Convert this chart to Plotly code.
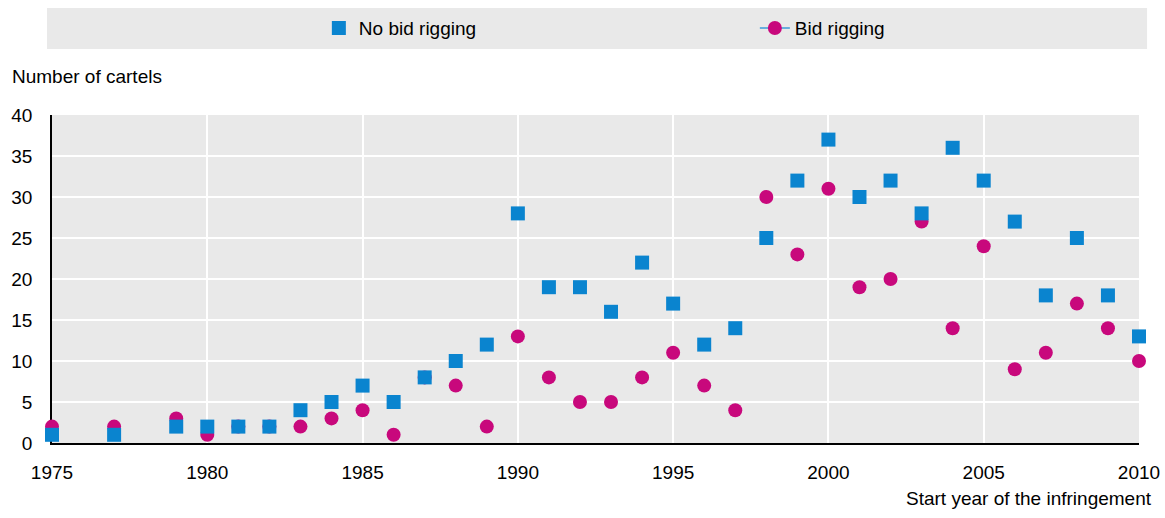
import plotly.graph_objects as go

years = [1975, 1977, 1979, 1980, 1981, 1982, 1983, 1984, 1985, 1986, 1987, 1988,
         1989, 1990, 1991, 1992, 1993, 1994, 1995, 1996, 1997, 1998, 1999, 2000,
         2001, 2002, 2003, 2004, 2005, 2006, 2007, 2008, 2009, 2010]
no_bid_rigging = [1, 1, 2, 2, 2, 2, 4, 5, 7, 5, 8, 10,
                  12, 28, 19, 19, 16, 22, 17, 12, 14, 25, 32, 37,
                  30, 32, 28, 36, 32, 27, 18, 25, 18, 13]
bid_rigging = [2, 2, 3, 1, 2, 2, 2, 3, 4, 1, 8, 7,
               2, 13, 8, 5, 5, 8, 11, 7, 4, 30, 23, 31,
               19, 20, 27, 14, 24, 9, 11, 17, 14, 10]
x_ticks = [1975, 1980, 1985, 1990, 1995, 2000, 2005, 2010]
y_ticks = [0, 5, 10, 15, 20, 25, 30, 35, 40]

BLUE = "#0a84cf"
MAGENTA = "#c8087c"
LINE_BLUE = "#3b9ad8"
BG = "#e9e9e9"
FONT = "Liberation Sans, Arial, sans-serif"

fig = go.Figure()
fig.add_trace(go.Scatter(
    x=years, y=bid_rigging, mode="markers", name="Bid rigging",
    marker=dict(symbol="circle", size=14, color=MAGENTA, line=dict(width=0)),
    cliponaxis=False, showlegend=False))
fig.add_trace(go.Scatter(
    x=years, y=no_bid_rigging, mode="markers", name="No bid rigging",
    marker=dict(symbol="square", size=14, color=BLUE, line=dict(width=0)),
    cliponaxis=False))
fig.add_trace(go.Scatter(
    x=[None], y=[None], mode="lines+markers", name="Bid rigging",
    line=dict(color=LINE_BLUE, width=1.5),
    marker=dict(symbol="circle", size=14, color=MAGENTA, line=dict(width=0))))

fig.update_layout(
    width=1165, height=518,
    margin=dict(l=52, r=26, t=115, b=75, autoexpand=False),
    paper_bgcolor="white", plot_bgcolor=BG,
    font=dict(family=FONT, size=19, color="#000000"),
    legend=dict(orientation="h", x=0.2455, xanchor="left", y=1.265, yanchor="middle",
                bgcolor="rgba(0,0,0,0)", entrywidth=391, entrywidthmode="pixels",
                font=dict(size=19)),
    xaxis=dict(range=[1975, 2010], tickvals=x_ticks, showgrid=True, gridcolor="white",
               gridwidth=2, zeroline=False, showline=True, linecolor="black", linewidth=2,
               ticks="", ticklabelstandoff=11, layer="below traces", fixedrange=True),
    yaxis=dict(range=[0, 40], tickvals=y_ticks, showgrid=True, gridcolor="white",
               gridwidth=2, zeroline=False, showline=True, linecolor="black", linewidth=1.5,
               ticks="", ticklabelstandoff=14, layer="below traces", fixedrange=True),
    shapes=[dict(type="rect", xref="paper", yref="paper",
                 x0=-0.0046, x1=1.0074, y0=1.2012, y1=1.3262,
                 fillcolor=BG, line=dict(width=0), layer="below")],
    annotations=[
        dict(text="Number of cartels", xref="paper", yref="paper", x=-0.0386, y=1.116,
             xanchor="left", yanchor="middle", showarrow=False, font=dict(size=19)),
        dict(text="Start year of the infringement", xref="paper", yref="paper",
             x=1.0135, y=-0.1677, xanchor="right", yanchor="middle", showarrow=False,
             font=dict(size=19)),
    ],
)

fig.write_html("out.html", config={"displayModeBar": False},
               post_script="document.body.style.margin='0px';")
